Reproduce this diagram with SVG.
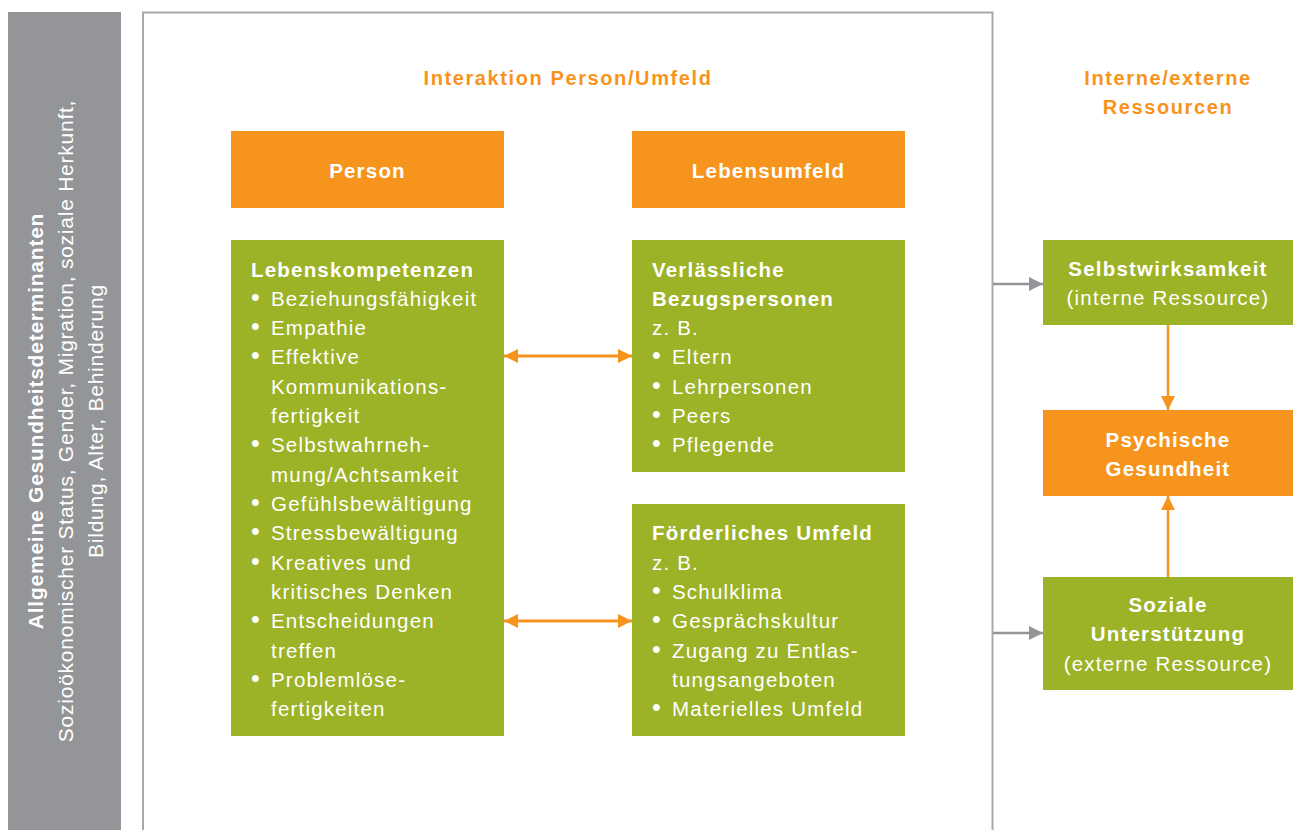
<svg xmlns="http://www.w3.org/2000/svg" width="1298" height="830" viewBox="0 0 1298 830">
<style>
text{font-family:"Liberation Sans","DejaVu Sans",sans-serif;}
.t{font-size:20.5px;fill:#fff;letter-spacing:1.2px;}
.b{font-weight:bold;}
.h{font-size:20px;fill:#f7941d;font-weight:bold;letter-spacing:1.6px;text-anchor:middle;}
.c{text-anchor:middle;}
.or{fill:#f7941d;}
.gr{fill:#9cb227;}
.side{font-size:21px;fill:#fff;letter-spacing:0.76px;text-anchor:middle;}
.bu{font-size:25px;letter-spacing:0;}
</style>
<defs>
<marker id="ao" viewBox="0 0 10 10" refX="10" refY="5" markerWidth="14" markerHeight="15" markerUnits="userSpaceOnUse" orient="auto-start-reverse"><path d="M0,0L10,5L0,10z" fill="#f7941d"/></marker>
<marker id="ag" viewBox="0 0 10 10" refX="10" refY="5" markerWidth="14" markerHeight="15" markerUnits="userSpaceOnUse" orient="auto"><path d="M0,0L10,5L0,10z" fill="#939598"/></marker>
</defs>
<rect width="1298" height="830" fill="#fff"/>
<g id="determinanten">
<rect x="8" y="12" width="113" height="818" fill="#939598"/>
<g transform="translate(64,421) rotate(-90)" class="side">
<text x="0" y="-21" class="b">Allgemeine Gesundheitsdeterminanten</text>
<text x="0" y="9">Sozioökonomischer Status, Gender, Migration, soziale Herkunft,</text>
<text x="0" y="39">Bildung, Alter, Behinderung</text>
</g>
</g>
<g id="frame">
<path d="M143,830V12.5H992.5V830" fill="none" stroke="#a7a9ac" stroke-width="2"/>
<text x="568" y="85" class="h">Interaktion Person/Umfeld</text>
</g>
<g id="ressourcen-title">
<text x="1168" y="85" class="h">Interne/externe</text>
<text x="1168" y="114" class="h">Ressourcen</text>
</g>
<g id="person">
<rect x="231" y="131" width="273" height="77" class="or"/>
<text x="367.5" y="178" class="t b c">Person</text>
</g>
<g id="lebensumfeld">
<rect x="632" y="131" width="273" height="77" class="or"/>
<text x="768.5" y="178" class="t b c">Lebensumfeld</text>
</g>
<g id="lebenskompetenzen">
<rect x="231" y="240" width="273" height="496" class="gr"/>
<text x="251" y="277" class="t b">Lebenskompetenzen</text>
<g class="t">
<text y="306"><tspan x="251" class="bu">•</tspan><tspan x="271">Beziehungsfähigkeit</tspan></text>
<text y="335"><tspan x="251" class="bu">•</tspan><tspan x="271">Empathie</tspan></text>
<text y="364"><tspan x="251" class="bu">•</tspan><tspan x="271">Effektive</tspan></text>
<text x="271" y="394">Kommunikations-</text>
<text x="271" y="423">fertigkeit</text>
<text y="452"><tspan x="251" class="bu">•</tspan><tspan x="271">Selbstwahrneh-</tspan></text>
<text x="271" y="482">mung/Achtsamkeit</text>
<text y="511"><tspan x="251" class="bu">•</tspan><tspan x="271">Gefühlsbewältigung</tspan></text>
<text y="540"><tspan x="251" class="bu">•</tspan><tspan x="271">Stressbewältigung</tspan></text>
<text y="570"><tspan x="251" class="bu">•</tspan><tspan x="271">Kreatives und</tspan></text>
<text x="271" y="599">kritisches Denken</text>
<text y="628"><tspan x="251" class="bu">•</tspan><tspan x="271">Entscheidungen</tspan></text>
<text x="271" y="658">treffen</text>
<text y="687"><tspan x="251" class="bu">•</tspan><tspan x="271">Problemlöse-</tspan></text>
<text x="271" y="716">fertigkeiten</text>
</g>
</g>
<g id="bezugspersonen">
<rect x="632" y="240" width="273" height="232" class="gr"/>
<text x="652" y="277" class="t b">Verlässliche</text>
<text x="652" y="306" class="t b">Bezugspersonen</text>
<g class="t">
<text x="652" y="335">z. B.</text>
<text y="364"><tspan x="652" class="bu">•</tspan><tspan x="672">Eltern</tspan></text>
<text y="394"><tspan x="652" class="bu">•</tspan><tspan x="672">Lehrpersonen</tspan></text>
<text y="423"><tspan x="652" class="bu">•</tspan><tspan x="672">Peers</tspan></text>
<text y="452"><tspan x="652" class="bu">•</tspan><tspan x="672">Pflegende</tspan></text>
</g>
</g>
<g id="umfeld">
<rect x="632" y="504" width="273" height="232" class="gr"/>
<text x="652" y="540" class="t b">Förderliches Umfeld</text>
<g class="t">
<text x="652" y="570">z. B.</text>
<text y="599"><tspan x="652" class="bu">•</tspan><tspan x="672">Schulklima</tspan></text>
<text y="628"><tspan x="652" class="bu">•</tspan><tspan x="672">Gesprächskultur</tspan></text>
<text y="658"><tspan x="652" class="bu">•</tspan><tspan x="672">Zugang zu Entlas-</tspan></text>
<text x="672" y="687">tungsangeboten</text>
<text y="716"><tspan x="652" class="bu">•</tspan><tspan x="672">Materielles Umfeld</tspan></text>
</g>
</g>
<g id="selbstwirksamkeit">
<rect x="1043" y="240" width="250" height="85" class="gr"/>
<text x="1168" y="276" class="t b c">Selbstwirksamkeit</text>
<text x="1168" y="305" class="t c">(interne Ressource)</text>
</g>
<g id="psychische-gesundheit">
<rect x="1043" y="410" width="250" height="86" class="or"/>
<text x="1168" y="447" class="t b c">Psychische</text>
<text x="1168" y="476" class="t b c">Gesundheit</text>
</g>
<g id="soziale-unterstuetzung">
<rect x="1043" y="577" width="250" height="113" class="gr"/>
<text x="1168" y="612" class="t b c">Soziale</text>
<text x="1168" y="641" class="t b c">Unterstützung</text>
<text x="1168" y="671" class="t c">(externe Ressource)</text>
</g>
<g id="connectors">
<line x1="504" y1="356" x2="632" y2="356" stroke="#f7941d" stroke-width="3" marker-start="url(#ao)" marker-end="url(#ao)"/>
<line x1="504" y1="621" x2="632" y2="621" stroke="#f7941d" stroke-width="3" marker-start="url(#ao)" marker-end="url(#ao)"/>
<line x1="993" y1="284" x2="1043" y2="284" stroke="#939598" stroke-width="2.5" marker-end="url(#ag)"/>
<line x1="993" y1="633" x2="1043" y2="633" stroke="#939598" stroke-width="2.5" marker-end="url(#ag)"/>
<line x1="1168" y1="325" x2="1168" y2="410" stroke="#f7941d" stroke-width="2.5" marker-end="url(#ao)"/>
<line x1="1168" y1="577" x2="1168" y2="496" stroke="#f7941d" stroke-width="2.5" marker-end="url(#ao)"/>
</g>
</svg>
